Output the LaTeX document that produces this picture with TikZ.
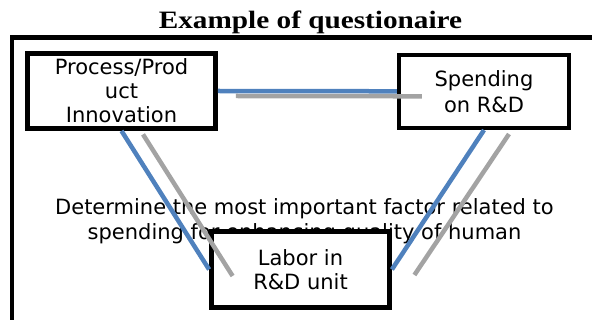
\documentclass[tikz,border=0pt]{standalone}
\usepackage{fontspec}
\usepackage{graphicx}
\setmainfont{DejaVu Sans}
\newfontfamily\titlefont{Liberation Serif}
\definecolor{linkblue}{RGB}{79,129,189}
\definecolor{linkgray}{RGB}{163,163,163}
\begin{document}
\begin{tikzpicture}[x=1pt,y=-1pt,
  box/.style={draw=black,fill=white,line width=4.8pt,align=center,inner sep=0pt,
    font=\fontsize{21}{24}\selectfont},
  bluelink/.style={draw=linkblue,line width=4.5pt},
  graylink/.style={draw=linkgray,line width=4.5pt}]
\useasboundingbox (0,0) rectangle (592,320);
% title
\node[anchor=base,inner sep=0pt] (title) at (310.5,28.3)
  {\scalebox{1.17}[1]{\titlefont\bfseries\fontsize{25}{28}\selectfont Example of questionaire}};
% frame
\draw[line width=4.5pt] (12,322) -- (12,37.5) -- (594,37.5);
% middle text
\node[align=center,inner sep=0pt,anchor=base,font=\fontsize{21}{25}\selectfont] (question) at (304.5,239.3)
  {Determine the most important factor related to\\ spending for enhancing quality of human};
% boxes
\node[box,minimum width=188pt,minimum height=75pt] (b1) at (121.5,91) {Process/Prod\\uct\\Innovation};
\node[box,line width=4.2pt,minimum width=170pt,minimum height=73.3pt,
  font=\fontsize{21}{26}\selectfont] (b2) at (484,91.3) {Spending\\on R\&D};
\node[box,minimum width=178pt,minimum height=76pt] (b3) at (300.5,269.5) {Labor in\\R\&D unit};
% connectors
\draw[bluelink] (b1.east) -- (b2.west);
\draw[graylink] ([shift={(18,5)}]b1.east) -- ([shift={(25,5)}]b2.west);
\draw[bluelink] (b1.south) -- (b3.west);
\draw[graylink] ([shift={(21.5,3.5)}]b1.south) -- ([shift={(23.5,6.5)}]b3.west);
\draw[bluelink] (b2.south) -- (b3.east);
\draw[graylink] ([shift={(25,4)}]b2.south) -- ([shift={(22.5,5.5)}]b3.east);
\end{tikzpicture}
\end{document}
